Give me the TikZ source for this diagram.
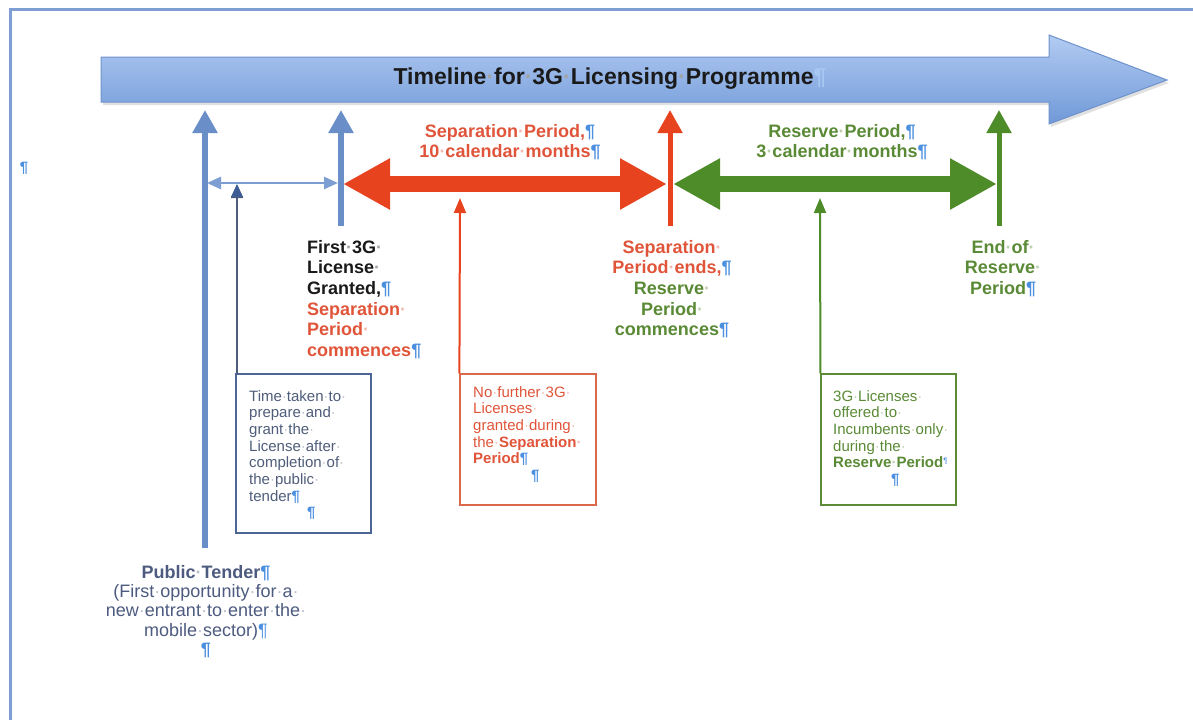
\documentclass[tikz,border=0pt]{standalone}
\usepackage{fontspec}
\setmainfont{Liberation Sans}
\usetikzlibrary{arrows.meta,calc}
\definecolor{framec}{HTML}{7F9FD4}
\definecolor{bartop}{HTML}{B2CBF2}
\definecolor{barbot}{HTML}{7099D8}
\definecolor{barline}{HTML}{6E92CC}
\definecolor{bluev}{HTML}{6A8FC8}
\definecolor{bluethin}{HTML}{7C9ED2}
\definecolor{navy}{HTML}{3D5C94}
\definecolor{redA}{HTML}{E8431F}
\definecolor{redT}{HTML}{E0553A}
\definecolor{greenA}{HTML}{4E8C2A}
\definecolor{greenT}{HTML}{5A8A35}
\definecolor{bboxc}{HTML}{4C6696}
\definecolor{bboxt}{HTML}{4F5D7A}
\definecolor{rboxc}{HTML}{D9694A}
\definecolor{gboxc}{HTML}{5C8C38}
\definecolor{ptc}{HTML}{4D5B80}
\definecolor{blk}{HTML}{1A1A1A}
\definecolor{pilc}{HTML}{4A8FE0}
\definecolor{pilt}{HTML}{A8C8F4}
\newcommand\wsp{{\color{.!40!white}·}}
\newcommand\pil{{\color{pilc}¶}}
\begin{document}
\begin{tikzpicture}[x=1pt,y=-1pt,
  lbl/.style={inner sep=0, font=\bfseries\fontsize{18}{20.6}\selectfont},
  boxtxt/.style={inner sep=0, align=left, anchor=north west, font=\fontsize{15}{16.7}\selectfont},
  note/.style={draw, line width=1.2pt, inner sep=0, fill=none},
  varrow/.style={line width=5.5pt, -{Triangle[width=24pt,length=23pt]}},
  thinarrow/.style={line width=2pt, -{Triangle[width=12pt,length=15pt]}},
  bigdbl/.style={line width=16pt, {Triangle[width=48pt,length=47pt]}-{Triangle[width=48pt,length=47pt]}}
]
\useasboundingbox (0,0) rectangle (1193,720);
\fill[white] (0,0) rectangle (1193,720);
% page frame
\draw[framec, line width=3pt] (10,720) -- (10,9) -- (1193,9);
\node[inner sep=0, font=\bfseries\fontsize{15}{15}\selectfont, text=pilc] (lpil) at (24,168) {¶};

% timeline bar
\fill[black, opacity=.12, shift={(2,3)}] (101,57) -- (1049,57) -- (1049,35) -- (1167,80) -- (1049,124) -- (1049,102) -- (101,102) -- cycle;
\draw[barline, line width=1pt, top color=bartop, bottom color=barbot]
  (101,57) -- (1049,57) -- (1049,35) -- (1167,80) -- (1049,124) -- (1049,102) -- (101,102) -- cycle;
\node[anchor=base, inner sep=0, font=\bfseries\fontsize{23}{27}\selectfont, text=blk] (title) at (610,84)
  {Timeline\wsp for\wsp 3G\wsp Licensing\wsp Programme{\color{pilt}¶}};

% coordinates
\coordinate (ptTip) at (205,110);  \coordinate (ptFoot) at (205,548);
\coordinate (flTip) at (341,110);  \coordinate (flFoot) at (341,226);
\coordinate (seTip) at (670,110);  \coordinate (seFoot) at (670,226);
\coordinate (erTip) at (999,110);  \coordinate (erFoot) at (999,226);
\coordinate (gapL) at (207,183);   \coordinate (gapR) at (338,183);
\coordinate (gapMid) at (237,185); \coordinate (bboxTop) at (237,374);
\coordinate (sepL) at (343,184);   \coordinate (sepR) at (667,184);
\coordinate (resL) at (673,184);   \coordinate (resR) at (997,184);
\coordinate (sepUnder) at (460,198); \coordinate (resUnder) at (820,198);

% vertical arrows
\draw[varrow, bluev] (ptFoot) -- (ptTip);
\draw[varrow, bluev] (flFoot) -- (flTip);
\draw[varrow, redA, line width=5pt] (seFoot) -- (seTip);
\draw[varrow, greenA, line width=5pt] (erFoot) -- (erTip);

% thin gap arrow
\draw[bluethin, line width=2.5pt, {Triangle[width=12pt,length=14pt]}-{Triangle[width=12pt,length=14pt]}] (gapL) -- (gapR);

% big double arrows
\draw[bigdbl, redA] (sepL) -- (sepR);
\draw[bigdbl, greenA] (resL) -- (resR);

% top labels
\node[lbl, align=center, anchor=north, text=redT] (sepTop) at (510,124)
  {Separation\wsp Period,\pil\\10\wsp calendar\wsp months\pil};
\node[lbl, align=center, anchor=north, text=greenT] (resTop) at (842,124)
  {Reserve\wsp Period,\pil\\3\wsp calendar\wsp months\pil};

% labels under the arrows
\node[lbl, align=left, anchor=north west, text=blk] (first) at (307,240)
  {First\wsp 3G\wsp\\License\wsp\\Granted,\pil\\{\color{redT}Separation\wsp}\\{\color{redT}Period\wsp}\\{\color{redT}commences}\pil};
\node[lbl, align=center, anchor=north, text=redT] (sepEnd) at (672,240)
  {Separation\wsp\\Period\wsp ends,\pil\\{\color{greenT}Reserve\wsp}\\{\color{greenT}Period\wsp}\\{\color{greenT}commences}\pil};
\node[lbl, align=center, anchor=north, text=greenT] (endRes) at (1003,240)
  {End\wsp of\wsp\\Reserve\wsp\\Period\pil};

% public tender
\node[inner sep=0, align=center, anchor=north, text=ptc, font=\fontsize{18}{19.3}\selectfont] (pt) at (206,565)
  {\textbf{Public\wsp Tender}\textbf{\pil}\\(First\wsp opportunity\wsp for\wsp a\wsp\\new\wsp entrant\wsp to\wsp enter\wsp the\wsp\\mobile\wsp sector)\pil\\\textbf{\pil}};

% note boxes
\node[note, draw=bboxc, minimum width=135pt, minimum height=159pt] (bbox) at (303.5,453.5) {};
\node[note, draw=rboxc, minimum width=136pt, minimum height=131pt] (rbox) at (528,439.5) {};
\node[note, draw=gboxc, minimum width=135pt, minimum height=131pt] (gbox) at (888.5,439.5) {};

\node[boxtxt, text=bboxt] (btxt) at (249,390)
  {Time\wsp taken\wsp to\wsp\\prepare\wsp and\wsp\\grant\wsp the\wsp\\License\wsp after\wsp\\completion\wsp of\wsp\\the\wsp public\wsp\\tender\textbf{\pil}\\\hspace*{58pt}\textbf{\pil}};
\node[boxtxt, text=redT] (rtxt) at (473,386)
  {No\wsp further\wsp 3G\wsp\\Licenses\wsp\\granted\wsp during\wsp\\the\wsp\textbf{Separation\wsp}\\\textbf{Period\pil}\\\hspace*{58pt}\textbf{\pil}};
\node[boxtxt, text=greenT] (gtxt) at (833,390)
  {3G\wsp Licenses\wsp\\offered\wsp to\wsp\\Incumbents\wsp only\wsp\\during\wsp the\wsp\\\textbf{Reserve\wsp Period}{\color{pilc}\fontsize{8}{8}\selectfont\raisebox{4pt}{¶}}\\\hspace*{58pt}\textbf{\pil}};

% thin arrows from the notes
\draw[bboxt, line width=1.5pt, -{Triangle[width=12pt,length=13pt]}] (bboxTop) -- (gapMid);
\fill[navy] (231,197) -- (243,197) -- (237,184) -- cycle;
\draw[thinarrow, redA] (rbox.north west) -- (sepUnder);
\draw[thinarrow, greenA] (gbox.north west) -- (resUnder);
\end{tikzpicture}
\end{document}
